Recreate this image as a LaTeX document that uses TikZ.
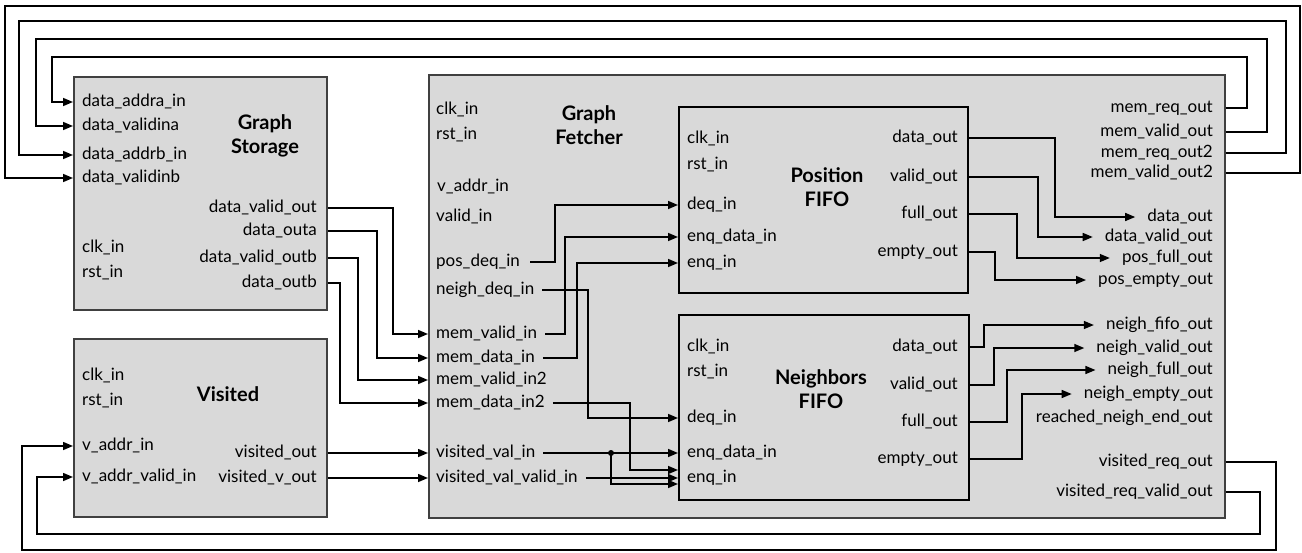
\documentclass[tikz,border=0pt]{standalone}
\usepackage{fontspec}
\setmainfont{Lato}
\usetikzlibrary{arrows.meta,calc}
\begin{document}
\begin{tikzpicture}[x=1pt,y=-1pt,
 lab/.style={inner sep=0pt, font=\fontsize{17}{20}\selectfont, text height=12pt, text depth=3pt},
 lw/.style={lab,anchor=west},
 le/.style={lab,anchor=east},
 ttl/.style={font=\fontsize{20}{24}\selectfont\bfseries, align=center, inner sep=0pt},
 blk/.style={draw=black!75, fill=black!15, line width=1.5pt, anchor=north west, inner sep=0pt},
 wire/.style={line width=1.5pt},
 arr/.style={wire,-{Triangle[length=10pt,width=8pt]}},
]
\useasboundingbox (0,0) rectangle (1302,552);
% blocks
\node[blk, minimum width=253pt, minimum height=233pt] (gs) at (73,76) {};
\node[blk, minimum width=253pt, minimum height=178pt] (vis) at (73,338) {};
\node[blk, minimum width=796pt, minimum height=443pt] (gf) at (428,74) {};
\node[blk, draw=black, minimum width=289pt, minimum height=186pt] (pf) at (678,106) {};
\node[blk, draw=black, minimum width=290pt, minimum height=185pt] (nf) at (678,314) {};
% helper columns
\foreach \c in {340,358,377,393,555,565,577,588,611,630,984,994,995,1007,1017,1022,1038,1055}
  \coordinate (c\c) at (\c,0);
% Graph Storage
\node[lw] (s-daa) at (82,102) {data\_addra\_in};
\node[lw] (s-dva) at (82,126) {data\_validina};
\node[lw] (s-dab) at (82,155) {data\_addrb\_in};
\node[lw] (s-dvb) at (82,178) {data\_validinb};
\node[lw] (s-clk) at (82,248) {clk\_in};
\node[lw] (s-rst) at (82,273) {rst\_in};
\node[le] (s-dvo) at (317,208) {data\_valid\_out};
\node[le] (s-doa) at (317,231) {data\_outa};
\node[le] (s-dvob) at (317,258) {data\_valid\_outb};
\node[le] (s-dob) at (317,283) {data\_outb};
\node[ttl] (s-t) at (265,136) {Graph\\Storage};
% Visited
\node[lw] (v-clk) at (82,376) {clk\_in};
\node[lw] (v-rst) at (82,401) {rst\_in};
\node[lw] (v-ai) at (82,446) {v\_addr\_in};
\node[lw] (v-avi) at (82,477) {v\_addr\_valid\_in};
\node[le] (v-vo) at (317,453) {visited\_out};
\node[le] (v-vvo) at (317,478) {visited\_v\_out};
\node[ttl] (v-t) at (228,394) {Visited};
% Graph Fetcher
\node[lw] (g-clk) at (436,110) {clk\_in};
\node[lw] (g-rst) at (436,135) {rst\_in};
\node[lw] (g-vai) at (437,187) {v\_addr\_in};
\node[lw] (g-vi) at (436,217) {valid\_in};
\node[lw] (g-pdi) at (436,262) {pos\_deq\_in};
\node[lw] (g-ndi) at (436,290) {neigh\_deq\_in};
\node[lw] (g-mvi) at (436,334) {mem\_valid\_in};
\node[lw] (g-mdi) at (436,358) {mem\_data\_in};
\node[lw] (g-mvi2) at (436,380) {mem\_valid\_in2};
\node[lw] (g-mdi2) at (436,403) {mem\_data\_in2};
\node[lw] (g-vvi) at (436,453) {visited\_val\_in};
\node[lw] (g-vvvi) at (436,478) {visited\_val\_valid\_in};
\node[ttl] (g-t) at (589,125) {Graph\\Fetcher};
\node[le] (g-mro) at (1213,108) {mem\_req\_out};
\node[le] (g-mvo) at (1213,132) {mem\_valid\_out};
\node[le] (g-mro2) at (1213,153) {mem\_req\_out2};
\node[le] (g-mvo2) at (1213,173) {mem\_valid\_out2};
\node[le] (g-do) at (1213,217) {data\_out};
\node[le] (g-dvo) at (1213,237) {data\_valid\_out};
\node[le] (g-pfo) at (1213,258) {pos\_full\_out};
\node[le] (g-peo) at (1213,280) {pos\_empty\_out};
\node[le] (g-nfo) at (1213,325) {neigh\_fifo\_out};
\node[le] (g-nvo) at (1213,348) {neigh\_valid\_out};
\node[le] (g-nflo) at (1213,370) {neigh\_full\_out};
\node[le] (g-neo) at (1213,394) {neigh\_empty\_out};
\node[le] (g-rne) at (1213,418) {reached\_neigh\_end\_out};
\node[le] (g-vro) at (1213,462) {visited\_req\_out};
\node[le] (g-vrvo) at (1213,492) {visited\_req\_valid\_out};
% Position FIFO
\node[lw] (p-clk) at (687,139) {clk\_in};
\node[lw] (p-rst) at (687,165) {rst\_in};
\node[lw] (p-deq) at (687,205) {deq\_in};
\node[lw] (p-edi) at (687,237) {enq\_data\_in};
\node[lw] (p-enq) at (687,263) {enq\_in};
\node[le] (p-do) at (958,138) {data\_out};
\node[le] (p-vo) at (958,177) {valid\_out};
\node[le] (p-fo) at (958,214) {full\_out};
\node[le] (p-eo) at (958,252) {empty\_out};
\node[ttl] (p-t) at (827,187) {Position\\FIFO};
% Neighbors FIFO
\node[lw] (n-clk) at (687,347) {clk\_in};
\node[lw] (n-rst) at (687,372) {rst\_in};
\node[lw] (n-deq) at (687,418) {deq\_in};
\node[lw] (n-edi) at (687,453) {enq\_data\_in};
\node[lw] (n-enq) at (687,478) {enq\_in};
\node[le] (n-do) at (958,347) {data\_out};
\node[le] (n-vo) at (958,385) {valid\_out};
\node[le] (n-fo) at (958,422) {full\_out};
\node[le] (n-eo) at (958,459) {empty\_out};
\node[ttl] (n-t) at (821,389) {Neighbors\\FIFO};
% top feedback loops
\draw[arr] (gf.east |- g-mro) -| (1247,57) -- (52,57) |- (gs.west |- s-daa);
\draw[arr] (gf.east |- g-mvo) -| (1267,39) -- (36,39) |- (gs.west |- s-dva);
\draw[arr] (gf.east |- g-mro2) -| (1286,21) -- (19,21) |- (gs.west |- s-dab);
\draw[arr] (gf.east |- g-mvo2) -| (1300,6) -- (5,6) |- (gs.west |- s-dvb);
% bottom feedback loops
\draw[arr] (gf.east |- g-vro) -| (1276,550) -- (22,550) |- (vis.west |- v-ai);
\draw[arr] (gf.east |- g-vrvo) -| (1260,534) -- (37,534) |- (vis.west |- v-avi);
% storage -> fetcher
\draw[arr] (gs.east |- s-dvo) -| (c393 |- g-mvi) -- (gf.west |- g-mvi);
\draw[arr] (gs.east |- s-doa) -| (c377 |- g-mdi) -- (gf.west |- g-mdi);
\draw[arr] (gs.east |- s-dvob) -| (c358 |- g-mvi2) -- (gf.west |- g-mvi2);
\draw[arr] (gs.east |- s-dob) -| (c340 |- g-mdi2) -- (gf.west |- g-mdi2);
% visited -> fetcher
\draw[arr] (vis.east |- v-vo) -- (gf.west |- g-vvi);
\draw[arr] (vis.east |- v-vvo) -- (gf.west |- g-vvvi);
% fetcher internal -> position fifo
\draw[arr] ([xshift=10pt]g-pdi.east) -| (c555 |- p-deq) -- (pf.west |- p-deq);
\draw[arr] ([xshift=8pt]g-mvi.east) -| (c565 |- p-edi) -- (pf.west |- p-edi);
\draw[arr] ([xshift=8pt]g-mdi.east) -| (c577 |- p-enq) -- (pf.west |- p-enq);
% fetcher internal -> neighbors fifo
\draw[arr] ([xshift=8pt]g-ndi.east) -| (c588 |- n-deq) -- (nf.west |- n-deq);
\draw[arr] ([xshift=8pt]g-mdi2.east) -| ($(c630 |- n-enq)+(0,-8)$) -- ($(nf.west |- n-enq)+(0,-8)$);
\draw[arr] ([xshift=8pt]g-vvi.east) -- (nf.west |- n-edi);
\coordinate (dot) at (c611 |- g-vvi);
\fill (dot) circle (3pt);
\draw[arr] (dot) |- ($(nf.west |- n-enq)+(0,6)$);
\draw[arr] ([xshift=8pt]g-vvvi.east) -- (nf.west |- n-enq);
% position fifo outputs
\draw[arr] (pf.east |- p-do) -| (c1055 |- g-do) -- ([xshift=-12pt]g-do.west);
\draw[arr] (pf.east |- p-vo) -| (c1038 |- g-dvo) -- ([xshift=-12pt]g-dvo.west);
\draw[arr] (pf.east |- p-fo) -| (c1017 |- g-pfo) -- ([xshift=-12pt]g-pfo.west);
\draw[arr] (pf.east |- p-eo) -| (c995 |- g-peo) -- ([xshift=-12pt]g-peo.west);
% neighbors fifo outputs
\draw[arr] (nf.east |- n-do) -| (c984 |- g-nfo) -- ([xshift=-12pt]g-nfo.west);
\draw[arr] (nf.east |- n-vo) -| (c994 |- g-nvo) -- ([xshift=-12pt]g-nvo.west);
\draw[arr] (nf.east |- n-fo) -| (c1007 |- g-nflo) -- ([xshift=-12pt]g-nflo.west);
\draw[arr] (nf.east |- n-eo) -| (c1022 |- g-neo) -- ([xshift=-12pt]g-neo.west);
\end{tikzpicture}
\end{document}
